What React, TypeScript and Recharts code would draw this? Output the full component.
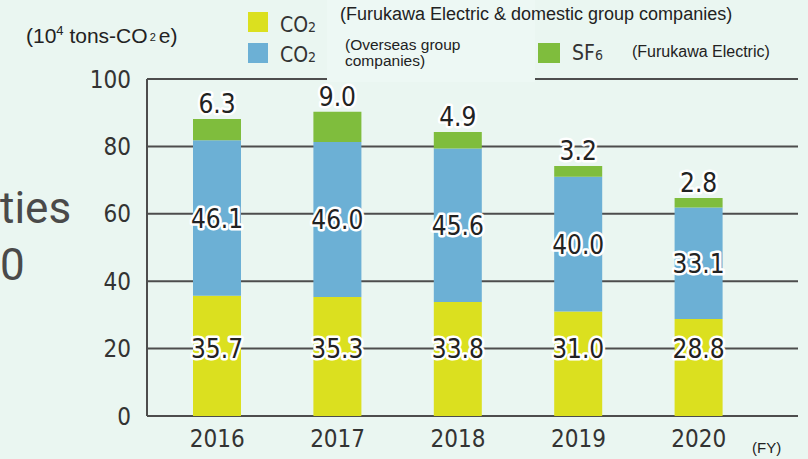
import React from "react";
import { BarChart, Bar, XAxis, YAxis, CartesianGrid, LabelList } from "recharts";

const years = ["2016", "2017", "2018", "2019", "2020"];
const domesticCo2 = [35.7, 35.3, 33.8, 31.0, 28.8];
const overseasCo2 = [46.1, 46.0, 45.6, 40.0, 33.1];
const sf6 = [6.3, 9.0, 4.9, 3.2, 2.8];
const yTicks = [0, 20, 40, 60, 80, 100];

const COLORS = {
  yellow: "#dbe01f",
  blue: "#6cb0d5",
  green: "#7fbd3d",
  grid: "#4d4d4d",
  text: "#222",
  bg: "#eaf6f1",
};

const NUM_FONT = "'DejaVu Sans Condensed', 'DejaVu Sans', sans-serif";
const TXT_FONT = "'Liberation Sans', Arial, sans-serif";

const data = years.map((year, i) => ({
  year,
  domestic: domesticCo2[i],
  overseas: overseasCo2[i],
  sf6: sf6[i],
}));

function ValueText({ x, y, value }: { x: number; y: number; value: number }) {
  return (
    <text
      x={x}
      y={y}
      textAnchor="middle"
      fontFamily={NUM_FONT}
      fontSize={26}
      fill={COLORS.text}
      stroke="#fff"
      strokeWidth={5}
      strokeLinejoin="round"
      paintOrder="stroke"
    >
      {value.toFixed(1)}
    </text>
  );
}

// yellow labels sit on the 20 gridline
function DomesticLabel(props: any) {
  const { x, y, width, height, value } = props;
  const at20 = y + height - (20 * height) / value;
  return <ValueText x={x + width / 2} y={at20 + 9.5} value={value} />;
}

function OverseasLabel(props: any) {
  const { x, y, width, height, value } = props;
  return <ValueText x={x + width / 2} y={y + height / 2 + 9.5} value={value} />;
}

function Sf6Label(props: any) {
  const { x, y, width, value } = props;
  return <ValueText x={x + width / 2} y={y - 6} value={value} />;
}

function Overlay() {
  return (
    <svg width={808} height={459} style={{ position: "absolute", left: 0, top: 0, pointerEvents: "none" }}>
      <rect x={327} y={0} width={208} height={82} fill="#edf8f4" />
      <text x={0} y={223} fontFamily="Roboto, sans-serif" fontSize={44} fill="#4a4a4a">ties</text>
      <text x={0} y={280} fontFamily="Roboto, sans-serif" fontSize={44} fill="#4a4a4a">0</text>

      <text x={26} y={43} fontFamily={TXT_FONT} fontSize={21} fill="#222">
        (10<tspan fontSize={13} dy={-8}>4</tspan>
        <tspan dy={8}> tons-CO</tspan>
        <tspan fontSize={11} dy={-2} dx={2}>2</tspan>
        <tspan dy={2} dx={3}>e)</tspan>
      </text>

      <rect x={248} y={12} width={20} height={20} fill={COLORS.yellow} />
      <text x={280} y={32} fontFamily={NUM_FONT} fontSize={21} fill="#333">
        CO<tspan fontSize={14}>2</tspan>
      </text>
      <rect x={248} y={43} width={20} height={20} fill={COLORS.blue} />
      <text x={280} y={62} fontFamily={NUM_FONT} fontSize={21} fill="#333">
        CO<tspan fontSize={14}>2</tspan>
      </text>

      <text x={340} y={20} fontFamily={TXT_FONT} fontSize={18} fill="#222">
        (Furukawa Electric &amp; domestic group companies)
      </text>
      <text x={345} y={50} fontFamily={TXT_FONT} fontSize={15.5} fill="#222">(Overseas group</text>
      <text x={345} y={66} fontFamily={TXT_FONT} fontSize={15.5} fill="#222">companies)</text>

      <rect x={538} y={43} width={22} height={20} fill={COLORS.green} />
      <text x={572} y={60} fontFamily={NUM_FONT} fontSize={21} fill="#333">
        SF<tspan fontSize={14}>6</tspan>
      </text>
      <text x={632} y={57} fontFamily={TXT_FONT} fontSize={16} fill="#222">(Furukawa Electric)</text>

      <text x={752} y={453} fontFamily={TXT_FONT} fontSize={15} fill="#222">(FY)</text>
    </svg>
  );
}

export default function App() {
  return (
    <div style={{ position: "absolute", left: 0, top: 0, width: 808, height: 459, background: COLORS.bg }}>
      <BarChart
        width={808}
        height={459}
        data={data}
        margin={{ top: 79, right: 10, left: 87, bottom: 0 }}
        barCategoryGap={0}
      >
        <CartesianGrid horizontal vertical={false} stroke={COLORS.grid} strokeWidth={2} />
        <XAxis
          dataKey="year"
          height={43}
          axisLine={false}
          tickLine={false}
          padding={{ left: 10, right: 39 }}
          tick={{ fontSize: 24, fontFamily: NUM_FONT, fill: "#333" }}
          tickMargin={8}
        />
        <YAxis
          width={60}
          domain={[0, 100]}
          ticks={yTicks}
          axisLine={{ stroke: COLORS.grid, strokeWidth: 2 }}
          tickLine={false}
          tickMargin={10}
          tick={{ fontSize: 24, fontFamily: NUM_FONT, fill: "#333" }}
        />
        <Bar dataKey="domestic" stackId="a" fill={COLORS.yellow} barSize={48} isAnimationActive={false}>
          <LabelList dataKey="domestic" content={DomesticLabel} />
        </Bar>
        <Bar dataKey="overseas" stackId="a" fill={COLORS.blue} barSize={48} isAnimationActive={false}>
          <LabelList dataKey="overseas" content={OverseasLabel} />
        </Bar>
        <Bar dataKey="sf6" stackId="a" fill={COLORS.green} barSize={48} isAnimationActive={false}>
          <LabelList dataKey="sf6" content={Sf6Label} />
        </Bar>
      </BarChart>
      <Overlay />
    </div>
  );
}
